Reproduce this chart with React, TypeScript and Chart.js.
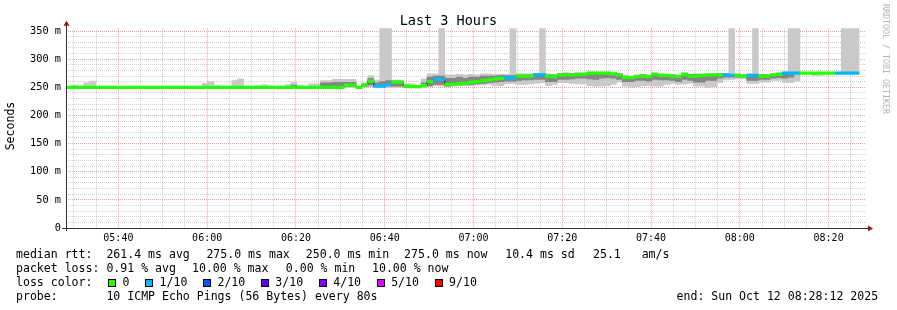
import React, { useEffect, useRef } from 'react';
import { Chart, registerables } from 'chart.js';

Chart.register(...registerables);

// Time axis in minutes since midnight: 05:28:12 .. 08:28:12, one step = 80 s
const START_MIN = 5 * 60 + 28.2;
const END_MIN = START_MIN + 180;
const STEP_MIN = 80 / 60;

// median RTT per step (ms)
const median: number[] = [
  250, 250, 250, 250, 250, 250, 250, 250, 250, 250,
  250, 250, 250, 250, 250, 250, 250, 250, 250, 250,
  250, 250, 250, 250, 250, 250, 250, 250, 250, 250,
  250, 250, 250, 250, 250, 250, 250, 250, 250, 250,
  250, 250, 250, 250, 250, 250, 250, 254, 254, 250,
  254, 261, 252, 252, 255, 259, 259, 252, 251, 251,
  253, 260, 264, 264, 255, 255, 257, 257, 259, 260,
  262, 263, 265, 266, 267, 267, 270, 270, 270, 272,
  272, 270, 269, 272, 272, 272, 273, 273, 275, 275,
  275, 275, 274, 272, 267, 267, 269, 270, 269, 273,
  271, 271, 270, 269, 273, 270, 270, 271, 272, 272,
  272, 272, 271, 271, 270, 271, 271, 270, 270, 272,
  273, 275, 275, 275, 275, 275, 275, 275, 275, 275,
  275, 275, 275, 275,
];

// packet loss per step, in tenths (pings lost out of 10)
const lossTenths: number[] = [
  0, 0, 0, 0, 0, 0, 0, 0, 0, 0,
  0, 0, 0, 0, 0, 0, 0, 0, 0, 0,
  0, 0, 0, 0, 0, 0, 0, 0, 0, 0,
  0, 0, 0, 0, 0, 0, 0, 0, 0, 0,
  0, 0, 0, 0, 0, 0, 0, 0, 0, 0,
  0, 0, 1, 1, 1, 0, 0, 0, 0, 0,
  0, 0, 1, 1, 0, 0, 0, 0, 0, 0,
  0, 0, 0, 0, 1, 1, 0, 0, 0, 1,
  1, 0, 0, 0, 0, 0, 0, 0, 0, 0,
  0, 0, 0, 0, 0, 0, 0, 0, 0, 0,
  0, 0, 0, 0, 0, 0, 0, 0, 0, 0,
  0, 1, 1, 0, 0, 1, 1, 0, 0, 0,
  0, 1, 1, 1, 0, 0, 0, 0, 0, 0,
  1, 1, 1, 1,
];

// outer smoke: lowest and highest ping per step (ms)
const smokeLo: number[] = [
  250, 250, 250, 250, 250, 250, 250, 250, 250, 250,
  250, 250, 250, 250, 250, 250, 250, 250, 250, 250,
  250, 250, 250, 250, 250, 250, 250, 250, 250, 250,
  250, 250, 250, 250, 250, 250, 250, 250, 250, 250,
  250, 250, 250, 250, 250, 250, 250, 250, 250, 250,
  250, 251, 250, 250, 250, 250, 250, 250, 250, 249,
  250, 251, 253, 252, 251, 252, 253, 253, 253, 254,
  254, 255, 253, 253, 256, 257, 255, 255, 256, 257,
  258, 253, 255, 258, 258, 257, 256, 256, 253, 252,
  252, 253, 255, 259, 252, 250, 251, 253, 253, 252,
  252, 255, 257, 255, 256, 257, 252, 252, 250, 251,
  258, 263, 264, 265, 265, 257, 257, 259, 259, 262,
  262, 258, 258, 261, 275, 275, 271, 271, 275, 275,
  275, 275, 275, 275,
];

const smokeHi: number[] = [
  250, 254, 252, 258, 261, 250, 250, 250, 250, 250,
  250, 250, 250, 250, 250, 250, 250, 250, 250, 250,
  250, 250, 250, 257, 260, 253, 250, 250, 262, 265,
  252, 250, 253, 255, 250, 250, 250, 255, 259, 254,
  251, 256, 256, 262, 262, 264, 264, 264, 264, 250,
  258, 271, 263, 400, 400, 263, 263, 256, 256, 254,
  265, 274, 274, 400, 272, 272, 273, 272, 273, 272,
  274, 274, 273, 273, 273, 400, 274, 274, 274, 275,
  400, 274, 273, 275, 276, 275, 276, 276, 277, 277,
  277, 277, 276, 275, 271, 270, 272, 273, 272, 276,
  274, 273, 273, 272, 276, 274, 274, 274, 274, 274,
  275, 275, 400, 274, 273, 274, 400, 273, 273, 274,
  276, 277, 400, 400, 276, 276, 276, 276, 276, 276,
  276, 400, 400, 400,
];

// inner (dense) smoke band per step (ms), null where none
const coreLo: (number | null)[] = [
  null, null, null, null, null, null, null, null, null, null,
  null, null, null, null, null, null, null, null, null, null,
  null, null, null, null, null, null, null, null, null, null,
  null, null, null, null, null, null, null, null, 250, null,
  null, null, null, 252, 252, 252, 252, 251, 251, null,
  252, 254, 251, 251, 252, 252, 252, 250, null, null,
  251, 253, 255, 255, 252, 253, 254, 254, 255, 256,
  257, 258, 259, 260, 261, 261, 262, 263, 263, 264,
  264, 260, 260, 264, 264, 265, 266, 266, 265, 264,
  266, 267, 266, 264, 260, 260, 262, 262, 261, 264,
  263, 263, 262, 260, 264, 262, 259, 259, 262, 262,
  266, 268, 268, 268, 268, 262, 262, 264, 264, 266,
  267, 266, 268, null, null, null, null, null, null, null,
  null, null, null, null,
];

const coreHi: (number | null)[] = [
  null, null, null, null, null, null, null, null, null, null,
  null, null, null, null, null, null, null, null, null, null,
  null, null, null, null, null, null, null, null, null, null,
  null, null, null, null, null, null, null, null, 254, null,
  null, null, null, 258, 258, 259, 259, 259, 259, null,
  256, 266, 258, 260, 262, 261, 261, 254, null, null,
  258, 268, 270, 270, 266, 266, 268, 266, 268, 268,
  270, 270, 270, 271, 271, 271, 272, 272, 272, 274,
  274, 272, 272, 274, 274, 274, 275, 275, 276, 276,
  276, 276, 275, 274, 270, 269, 271, 272, 271, 275,
  273, 272, 272, 271, 275, 273, 273, 273, 273, 273,
  274, 274, 273, 273, 272, 273, 273, 272, 272, 273,
  275, 276, 276, null, null, null, null, null, null, null,
  null, null, null, null,
];

const xTickLabels = ['05:40', '06:00', '06:20', '06:40', '07:00', '07:20', '07:40', '08:00', '08:20'];
const yTickLabels = ['0', '50 m', '100 m', '150 m', '200 m', '250 m', '300 m', '350 m'];

const lossLegendLabels = ['0', '1/10', '2/10', '3/10', '4/10', '5/10', '9/10'];
const lossLegendTenths = [0, 1, 2, 3, 4, 5, 9];
const lossColors: Record<number, string> = {
  0: '#26ff00', 1: '#00b8ff', 2: '#0059ff', 3: '#5e00ff', 4: '#7e00ff', 5: '#dd00ff', 9: '#ff0000',
};

// legend text pieces with their left edge in px
const statsLine1: [number, string][] = [
  [16, 'median rtt:'],
  [106.4, '261.4 ms avg'],
  [206.4, '275.0 ms max'],
  [305.8, '250.0 ms min'],
  [404.1, '275.0 ms now'],
  [505.2, '10.4 ms sd'],
  [593, '25.1   am/s'],
];
const statsLine2: [number, string][] = [
  [16, 'packet loss:'],
  [106.4, '0.91 % avg'],
  [192, '10.00 % max'],
  [285.8, '0.00 % min'],
  [372, '10.00 % now'],
];
const probeText = '10 ICMP Echo Pings (56 Bytes) every 80s';
const endText = 'end: Sun Oct 12 08:28:12 2025';

const MAJOR_GRID = 'rgba(240, 80, 80, 0.55)';
const MINOR_GRID = 'rgba(150, 150, 150, 0.45)';
const MEDIAN_HALF = 2.3; // ms half-thickness of the median band
const FONT = '"DejaVu Sans Mono", monospace';

const axesPlugin = {
  id: 'rrdAxes',
  afterDraw(chart: any) {
    const { ctx, chartArea: a } = chart;
    ctx.save();
    ctx.lineWidth = 1;
    ctx.strokeStyle = '#333';
    ctx.beginPath();
    ctx.moveTo(a.left + 0.5, a.bottom + 3);
    ctx.lineTo(a.left + 0.5, a.top - 3);
    ctx.moveTo(a.left - 4, a.bottom + 0.5);
    ctx.lineTo(a.right + 3, a.bottom + 0.5);
    ctx.stroke();
    ctx.fillStyle = '#8c1c1c';
    ctx.beginPath();
    ctx.moveTo(a.left + 0.5, a.top - 7.5);
    ctx.lineTo(a.left + 3.5, a.top - 2.5);
    ctx.lineTo(a.left - 2.5, a.top - 2.5);
    ctx.closePath();
    ctx.fill();
    ctx.beginPath();
    ctx.moveTo(a.right + 8, a.bottom + 0.5);
    ctx.lineTo(a.right + 3, a.bottom - 2.5);
    ctx.lineTo(a.right + 3, a.bottom + 3.5);
    ctx.closePath();
    ctx.fill();
    ctx.restore();
  },
};

export default function App() {
  const ref = useRef<HTMLCanvasElement | null>(null);

  useEffect(() => {
    const canvas = ref.current;
    if (!canvas) return;
    const xs = median.map((_, i) => START_MIN + (i + 0.5) * STEP_MIN);
    const xTickValues: number[] = [];
    for (let m = 330; m <= END_MIN; m += 5) xTickValues.push(m);
    const yTickValues: number[] = [];
    for (let v = 0; v <= 350; v += 10) yTickValues.push(v);

    const barCommon = {
      type: 'bar' as const,
      grouped: false,
      barPercentage: 1,
      categoryPercentage: 1,
      borderWidth: 0,
    };

    const chart = new Chart(canvas, {
      type: 'bar',
      data: {
        datasets: [
          {
            ...barCommon,
            label: 'smoke',
            data: xs.map((x, i) => ({ x, y: [smokeLo[i], smokeHi[i]] })) as any,
            backgroundColor: '#c9c9c9',
            order: 5,
          },
          {
            ...barCommon,
            label: 'core',
            data: xs.map((x, i) => ({
              x,
              y: coreLo[i] === null || coreHi[i] === null ? null : [coreLo[i], coreHi[i]],
            })) as any,
            backgroundColor: '#858585',
            order: 4,
          },
          {
            type: 'line' as const,
            label: 'median line',
            data: xs.map((x, i) => ({ x, y: median[i] })) as any,
            borderColor: '#202020',
            borderWidth: 1,
            stepped: 'middle',
            pointRadius: 0,
            order: 3,
          } as any,
          {
            ...barCommon,
            label: 'median',
            data: xs.map((x, i) => ({ x, y: [median[i] - MEDIAN_HALF, median[i] + MEDIAN_HALF] })) as any,
            backgroundColor: lossTenths.map((l) => lossColors[l] || '#ff0000'),
            order: 1,
          },
        ] as any,
      },
      options: {
        responsive: false,
        animation: false,
        events: [],
        layout: { padding: { left: 0, top: 28.2, right: 32, bottom: 62 } },
        plugins: {
          legend: { display: false },
          title: { display: false },
          tooltip: { enabled: false },
        },
        scales: {
          x: {
            type: 'linear',
            min: START_MIN,
            max: END_MIN,
            offset: false,
            grid: {
              offset: false,
              drawTicks: false,
              lineWidth: 1,
              color: (c: any) => (c.tick && (c.tick.value - 340) % 20 === 0 ? MAJOR_GRID : MINOR_GRID),
            },
            border: { display: false, dash: [1, 1] },
            ticks: {
              autoSkip: false,
              maxRotation: 0,
              minRotation: 0,
              padding: 4,
              color: '#000',
              font: { family: FONT, size: 10 },
              callback: (v: any) => {
                const d = Number(v) - 340;
                return d % 20 === 0 && d >= 0 ? xTickLabels[d / 20] ?? '' : '';
              },
            },
            afterBuildTicks: (s: any) => {
              s.ticks = xTickValues.map((value) => ({ value }));
            },
            afterFit: (s: any) => {
              s.height = 20;
            },
          } as any,
          y: {
            type: 'linear',
            min: 0,
            max: 355,
            grid: {
              drawTicks: false,
              lineWidth: 1,
              color: (c: any) => (c.tick && c.tick.value % 50 === 0 ? MAJOR_GRID : MINOR_GRID),
            },
            border: { display: false, dash: [1, 1] },
            ticks: {
              autoSkip: false,
              padding: 5,
              color: '#000',
              font: { family: FONT, size: 10.3 },
              callback: (v: any) => {
                const n = Number(v);
                return n % 50 === 0 ? yTickLabels[n / 50] ?? '' : '';
              },
            },
            afterBuildTicks: (s: any) => {
              s.ticks = yTickValues.map((value) => ({ value }));
            },
            afterFit: (s: any) => {
              s.width = 66;
            },
          } as any,
        },
      },
      plugins: [axesPlugin],
    });
    return () => chart.destroy();
  }, []);

  const legendFont: React.CSSProperties = {
    position: 'absolute',
    fontFamily: FONT,
    fontSize: '11.55px',
    lineHeight: '14px',
    whiteSpace: 'pre',
    color: '#000',
  };

  return (
    <div
      style={{
        position: 'fixed',
        left: 0,
        top: 0,
        width: 897,
        height: 310,
        background: '#fff',
        overflow: 'hidden',
      }}
    >
      <canvas
        ref={ref}
        width={897}
        height={310}
        style={{ position: 'absolute', left: 0, top: 0, width: 897, height: 310 }}
      />
      <div
        style={{
          position: 'absolute',
          left: 0,
          top: 12.3,
          width: 897,
          textAlign: 'center',
          fontFamily: FONT,
          fontSize: '13.5px',
          lineHeight: '16px',
          color: '#000',
        }}
      >
        Last 3 Hours
      </div>
      <div
        style={{
          ...legendFont,
          left: 10 - 50,
          top: 126 - 7,
          width: 100,
          textAlign: 'center',
          transform: 'rotate(-90deg)',
        }}
      >
        Seconds
      </div>
      <div
        style={{
          position: 'absolute',
          left: 881,
          top: 4,
          writingMode: 'vertical-rl',
          fontFamily: FONT,
          fontSize: '8.3px',
          lineHeight: '10px',
          color: '#b4b4b4',
          whiteSpace: 'pre',
        }}
      >
        RRDTOOL / TOBI OETIKER
      </div>
      {statsLine1.map(([x, t]) => (
        <div key={'a' + x} style={{ ...legendFont, left: x, top: 247 }}>{t}</div>
      ))}
      {statsLine2.map(([x, t]) => (
        <div key={'b' + x} style={{ ...legendFont, left: x, top: 261 }}>{t}</div>
      ))}
      <div style={{ ...legendFont, left: 16, top: 275 }}>loss color:</div>
      <div
        style={{
          position: 'absolute',
          left: 108,
          top: 275,
          height: 14,
          display: 'flex',
          alignItems: 'center',
        }}
      >
        {lossLegendLabels.map((lab, k) => (
          <div key={lab} style={{ display: 'flex', alignItems: 'center', marginRight: 15.6 }}>
            <span
              style={{
                display: 'inline-block',
                width: 8,
                height: 8,
                boxSizing: 'border-box',
                border: '1px solid #000',
                background: lossColors[lossLegendTenths[k]],
                marginRight: 6.5,
                marginTop: 2,
              }}
            />
            <span
              style={{
                fontFamily: FONT,
                fontSize: '11.55px',
                lineHeight: '14px',
                whiteSpace: 'pre',
                color: '#000',
              }}
            >
              {lab}
            </span>
          </div>
        ))}
      </div>
      <div style={{ ...legendFont, left: 16, top: 289 }}>probe:</div>
      <div style={{ ...legendFont, left: 16 + 13 * 6.953, top: 289 }}>{probeText}</div>
      <div style={{ ...legendFont, left: 16 + 95 * 6.953, top: 289 }}>{endText}</div>
    </div>
  );
}
